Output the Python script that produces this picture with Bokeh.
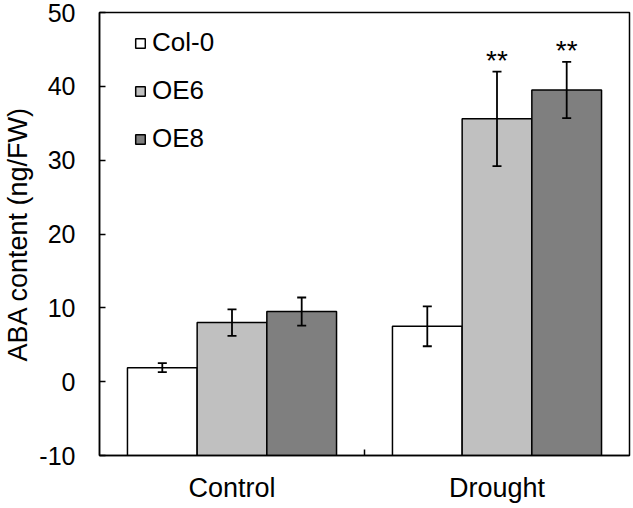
from bokeh.plotting import figure
from bokeh.models import (ColumnDataSource, Range1d, FixedTicker, Whisker, TeeHead,
                          Legend, LegendItem)
from bokeh.core.properties import value
from bokeh.embed import file_html
from bokeh.resources import INLINE

# ---- data ----
conditions = ["Control", "Drought"]
lines = ["Col-0", "OE6", "OE8"]
colors = ["#FFFFFF", "#C0C0C0", "#7F7F7F"]
means = {
    "Col-0": [1.9, 7.5],
    "OE6": [8.0, 35.6],
    "OE8": [9.5, 39.5],
}
errors = {
    "Col-0": [0.6, 2.7],
    "OE6": [1.8, 6.4],
    "OE8": [1.9, 3.8],
}
stars = {
    "Col-0": ["", ""],
    "OE6": ["", "**"],
    "OE8": ["", "**"],
}
y_ticks = [-10, 0, 10, 20, 30, 40, 50]
y_tick_labels = ["-10", "0", "10", "20", "30", "40", "50"]
Y_MIN, Y_MAX = -10, 50

FONT = "Liberation Sans"
BAR_W = 0.263
offsets = [-BAR_W, 0.0, BAR_W]
centers = [i + 0.5 for i in range(len(conditions))]

p = figure(frame_width=530, frame_height=443, output_backend="svg", toolbar_location=None,
           x_range=Range1d(0, len(conditions)), y_range=Range1d(Y_MIN, Y_MAX),
           min_border_left=94, min_border_right=2, min_border_top=12, min_border_bottom=45)
p.xgrid.visible = False
p.ygrid.visible = False
p.outline_line_color = "black"
p.outline_line_width = 1.5
p.outline_line_alpha = 1.0
p.background_fill_color = "white"
p.border_fill_color = "white"

items = []
for line, col, off in zip(lines, colors, offsets):
    xs = [c + off for c in centers]
    m = means[line]
    e = errors[line]
    src = ColumnDataSource(dict(x=xs, top=m, upper=[a + b for a, b in zip(m, e)],
                                lower=[a - b for a, b in zip(m, e)], star=stars[line]))
    r = p.vbar(x="x", top="top", bottom=Y_MIN, width=BAR_W, source=src,
               fill_color=col, line_color="black", line_width=1.5)
    items.append(LegendItem(label=line, renderers=[r]))
    w = Whisker(base="x", upper="upper", lower="lower", source=src, level="overlay",
                line_color="black", line_width=1.8,
                upper_head=TeeHead(size=9, line_color="black", line_width=1.8),
                lower_head=TeeHead(size=9, line_color="black", line_width=1.8))
    p.add_layout(w)
    p.text(x="x", y="upper", text="star", source=src, text_align="center",
           text_baseline="alphabetic", y_offset=-11, text_font=value(FONT),
           text_font_size="28px", text_color="black")

legend = Legend(items=items, location=(35, 301), orientation="vertical",
                label_text_font=FONT, label_text_font_size="26px",
                label_text_color="black", glyph_width=12, glyph_height=12,
                label_height=30, spacing=17, label_standoff=6,
                padding=0, margin=0, border_line_alpha=0,
                background_fill_alpha=0)
p.add_layout(legend)

# y axis
ya = p.yaxis[0]
ya.ticker = FixedTicker(ticks=y_ticks, minor_ticks=[])
ya.major_label_overrides = {t: s for t, s in zip(y_ticks, y_tick_labels)}
ya.major_tick_in = 6
ya.major_tick_out = 0
ya.minor_tick_in = 0
ya.minor_tick_out = 0
ya.major_tick_line_width = 1.5
ya.axis_line_width = 1.5
ya.axis_line_color = "black"
ya.major_label_standoff = 24
ya.major_label_text_font = FONT
ya.major_label_text_font_size = "25px"
ya.major_label_text_color = "black"
ya.axis_label = "ABA content (ng/FW)"
ya.axis_label_text_font = FONT
ya.axis_label_text_font_size = "27px"
ya.axis_label_text_font_style = "normal"
ya.axis_label_text_color = "black"
ya.axis_label_standoff = 3

# x axis
xa = p.xaxis[0]
xa.ticker = FixedTicker(ticks=centers, minor_ticks=[1])
xa.major_label_overrides = {c: name for c, name in zip(centers, conditions)}
xa.major_tick_in = 0
xa.major_tick_out = 0
xa.minor_tick_in = 6
xa.minor_tick_out = 0
xa.minor_tick_line_width = 1.5
xa.axis_line_width = 1.5
xa.axis_line_color = "black"
xa.major_label_standoff = 17
xa.major_label_text_font = FONT
xa.major_label_text_font_size = "27px"
xa.major_label_text_color = "black"

open("out.html", "w").write(file_html(p, INLINE))
